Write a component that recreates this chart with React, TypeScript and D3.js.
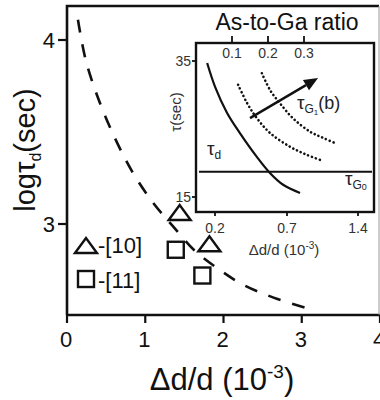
import React from 'react';
import * as d3 from 'd3';

// main plot data
const xTicks = [0, 1, 2, 3, 4];
const yTicks = [3, 4];
const fitX = [0.14, 0.24, 0.41, 0.62, 0.84, 1.11, 1.35, 1.62, 1.92, 2.25, 2.64, 3.08];
const fitY = [4.11, 3.89, 3.67, 3.46, 3.28, 3.11, 2.99, 2.86, 2.76, 2.67, 2.6, 2.54];
const triX = [1.44, 1.82];
const triY = [3.06, 2.89];
const sqX = [1.39, 1.73];
const sqY = [2.86, 2.72];

// inset data
const ratioTicks = [0.1, 0.2, 0.3];
const strainTicks = [0.2, 0.7, 1.4];
const tauTicks = [15, 35];
const tauDX = [0.031, 0.053, 0.086, 0.122, 0.169, 0.206, 0.242, 0.289];
const tauDY = [34.7, 31.2, 27.4, 24.4, 20.9, 18.5, 16.8, 15.6];
const dot1X = [0.117, 0.142, 0.169, 0.206, 0.261, 0.308, 0.353];
const dot1Y = [31.5, 28.8, 26.6, 24.4, 22.4, 21.2, 20.3];
const dot2X = [0.183, 0.206, 0.233, 0.269, 0.317, 0.353, 0.392];
const dot2Y = [33.2, 30.7, 28.8, 26.6, 24.6, 23.7, 22.8];
const tauG0 = 18.7;
const arrowX = [0.15, 0.339];
const arrowY = [26.6, 32.5];

const FONT = '"Liberation Sans", Arial, sans-serif';

export default function App() {
  const frame = { left: 67, top: 6, right: 379, bottom: 315 };
  const x = d3.scaleLinear().domain([0, 4]).range([67, 380]);
  const y = d3.scaleLinear().domain([3, 4]).range([224, 40]);

  const fitLine = d3.line<number>()
    .x((d, i) => x(fitX[i]))
    .y((d, i) => y(fitY[i]))
    .curve(d3.curveCatmullRom);

  // inset
  const inset = { left: 196, top: 43, right: 374, bottom: 212 };
  const ix = d3.scaleLinear().domain([0.1, 0.2]).range([232, 268]);
  const ixBottom = d3.scaleLinear().domain(strainTicks).range([215, 287, 358]);
  const iy = d3.scaleLinear().domain([15, 35]).range([197, 61]);

  const curve = (xs: number[], ys: number[]) =>
    d3.line<number>().x((d, i) => ix(xs[i])).y((d, i) => iy(ys[i])).curve(d3.curveCatmullRom)(xs) || '';

  const ax0 = ix(arrowX[0]), ay0 = iy(arrowY[0]);
  const ax1 = ix(arrowX[1]), ay1 = iy(arrowY[1]);
  const ang = Math.atan2(ay1 - ay0, ax1 - ax0);
  const headLen = 14, headW = 6;
  const bx = ax1 - headLen * Math.cos(ang), by = ay1 - headLen * Math.sin(ang);
  const head = `M${ax1},${ay1}L${bx - headW * Math.sin(ang)},${by + headW * Math.cos(ang)}L${bx + headW * Math.sin(ang)},${by - headW * Math.cos(ang)}Z`;

  const tri = (cx: number, cy: number) => `M${cx - 11},${cy + 7}L${cx},${cy - 8}L${cx + 11},${cy + 7}Z`;

  return (
    <svg width={380} height={400} style={{ position: 'absolute', left: 0, top: 0, background: '#fff' }} fontFamily={FONT}>
      {/* main frame */}
      <path d={`M${frame.left},${frame.bottom}V${frame.top}H${frame.right}`} fill="none" stroke="#111" strokeWidth={2.6} />
      <line x1={frame.left} x2={380} y1={frame.bottom} y2={frame.bottom} stroke="#111" strokeWidth={2.6} />
      <line x1={frame.right} x2={frame.right} y1={frame.top} y2={frame.bottom} stroke="#999" strokeWidth={1} />

      {xTicks.map(t => (
        <g key={'x' + t}>
          <line x1={x(t)} x2={x(t)} y1={frame.bottom} y2={frame.bottom + 8} stroke="#111" strokeWidth={2.2} />
          <text x={x(t) - 1} y={347} fontSize={22} textAnchor="middle" fill="#111">{t}</text>
        </g>
      ))}
      {yTicks.map(t => (
        <g key={'y' + t}>
          <line x1={frame.left - 9} x2={frame.left} y1={y(t)} y2={y(t)} stroke="#111" strokeWidth={2.2} />
          <text x={frame.left - 12} y={y(t) + 8} fontSize={22} textAnchor="end" fill="#111">{t}</text>
        </g>
      ))}

      <text x={222} y={390} fontSize={31} textAnchor="middle" fill="#111">
        Δd/d (10<tspan dy={-12} fontSize={19}>-3</tspan><tspan dy={12}>)</tspan>
      </text>
      <text transform="translate(35,150) rotate(-90)" fontSize={29} textAnchor="middle" fill="#111">
        logτ<tspan dy={6} fontSize={16}>d</tspan><tspan dy={-6}>(sec)</tspan>
      </text>

      <path d={fitLine(fitX) || ''} fill="none" stroke="#111" strokeWidth={2.6} strokeDasharray="13,12" />

      {triX.map((v, i) => (
        <path key={'t' + i} d={tri(x(v), y(triY[i]))} fill="none" stroke="#111" strokeWidth={2.4} strokeLinejoin="miter" />
      ))}
      {sqX.map((v, i) => (
        <rect key={'s' + i} x={x(v) - 8} y={y(sqY[i]) - 8} width={16} height={16} fill="none" stroke="#111" strokeWidth={2.4} />
      ))}

      {/* legend */}
      <path d={tri(86, 246)} fill="none" stroke="#111" strokeWidth={2.4} />
      <text x={98} y={253} fontSize={22} fill="#111">-[10]</text>
      <rect x={78} y={271} width={16} height={16} fill="none" stroke="#111" strokeWidth={2.4} />
      <text x={98} y={288} fontSize={22} fill="#111">-[11]</text>

      {/* inset */}
      <text x={287} y={30} fontSize={23} textAnchor="middle" fill="#111">As-to-Ga ratio</text>
      <rect x={inset.left} y={inset.top} width={inset.right - inset.left} height={inset.bottom - inset.top} fill="#fff" stroke="#111" strokeWidth={2.4} />
      {ratioTicks.map(t => (
        <g key={'r' + t}>
          <line x1={ix(t)} x2={ix(t)} y1={inset.top - 7} y2={inset.top} stroke="#111" strokeWidth={1.8} />
          <text x={ix(t)} y={58} fontSize={14} textAnchor="middle" fill="#333">{t}</text>
        </g>
      ))}
      {strainTicks.map(t => (
        <g key={'b' + t}>
          <line x1={ixBottom(t)} x2={ixBottom(t)} y1={inset.bottom} y2={inset.bottom + 4} stroke="#111" strokeWidth={1.8} />
          <text x={ixBottom(t)} y={233} fontSize={14} textAnchor="middle" fill="#333">{t}</text>
        </g>
      ))}
      {tauTicks.map(t => (
        <g key={'l' + t}>
          <line x1={inset.left - 4} x2={inset.left} y1={iy(t)} y2={iy(t)} stroke="#111" strokeWidth={1.8} />
          <text x={inset.left - 5} y={iy(t) + 5} fontSize={14} textAnchor="end" fill="#333">{t}</text>
        </g>
      ))}
      <text x={284} y={255} fontSize={15} textAnchor="middle" fill="#333">
        Δd/d (10<tspan dy={-6} fontSize={10}>-3</tspan><tspan dy={6}>)</tspan>
      </text>
      <text transform="translate(181,112) rotate(-90)" fontSize={15} textAnchor="middle" fill="#333">τ(sec)</text>

      <line x1={inset.left + 3} x2={inset.right - 2} y1={iy(tauG0)} y2={iy(tauG0)} stroke="#111" strokeWidth={2} />
      <path d={curve(tauDX, tauDY)} fill="none" stroke="#111" strokeWidth={2.2} />
      <path d={curve(dot1X, dot1Y)} fill="none" stroke="#111" strokeWidth={2.6} strokeDasharray="0.1,4" strokeLinecap="round" />
      <path d={curve(dot2X, dot2Y)} fill="none" stroke="#111" strokeWidth={2.6} strokeDasharray="0.1,4" strokeLinecap="round" />
      <line x1={ax0} y1={ay0} x2={bx} y2={by} stroke="#111" strokeWidth={2.4} />
      <path d={head} fill="#111" />

      <text x={207} y={155} fontSize={19} fill="#222">τ<tspan dy={4} fontSize={12}>d</tspan></text>
      <text x={297} y={109} fontSize={19} fill="#222">
        τ<tspan dy={4} fontSize={12}>G</tspan><tspan dy={2} fontSize={8}>1</tspan><tspan dy={-6} fontSize={18}>(b)</tspan>
      </text>
      <text x={345} y={185} fontSize={19} fill="#222">
        τ<tspan dy={4} fontSize={12}>G</tspan><tspan dy={1} fontSize={9}>0</tspan>
      </text>
    </svg>
  );
}
